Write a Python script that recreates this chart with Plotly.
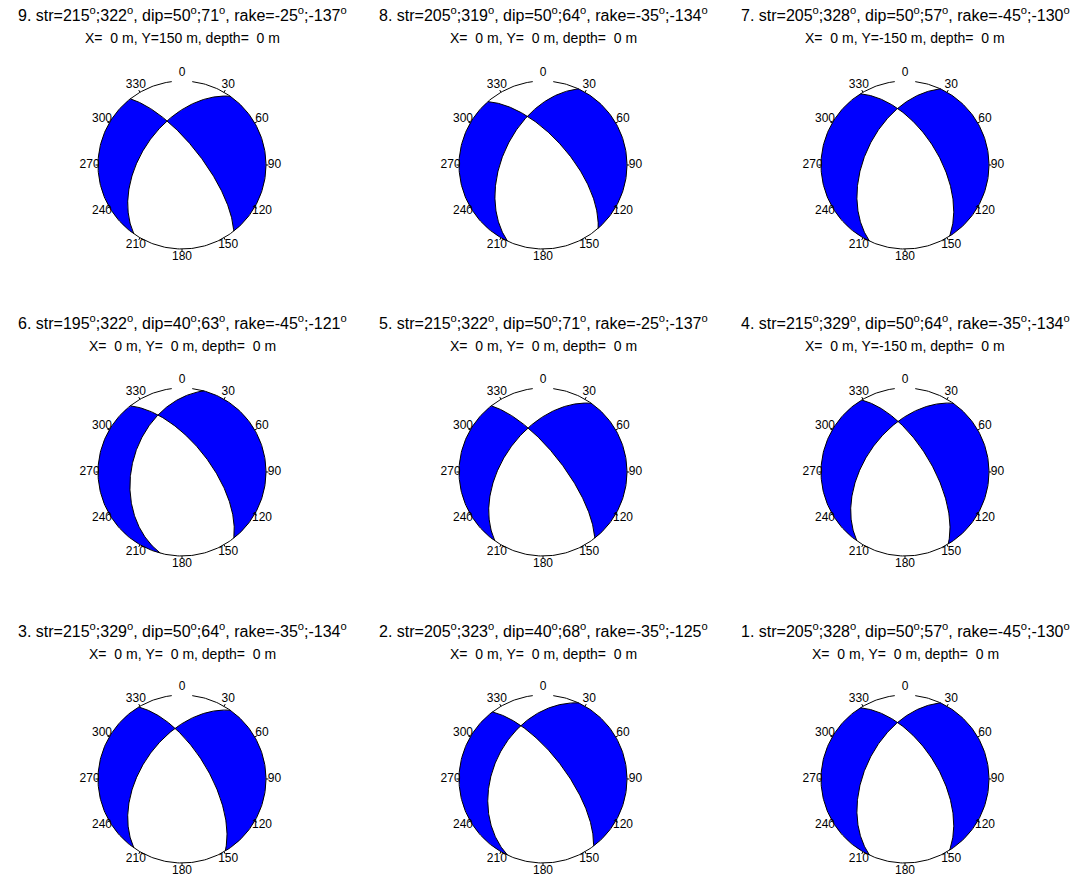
import numpy as np
import plotly.graph_objects as go

# ---------------- data ----------------
panel_ids = [9, 8, 7, 6, 5, 4, 3, 2, 1]
strike1 = [215, 205, 205, 195, 215, 215, 215, 205, 205]
strike2 = [322, 319, 328, 322, 322, 329, 329, 323, 328]
dip1 = [50, 50, 50, 40, 50, 50, 50, 40, 50]
dip2 = [71, 64, 57, 63, 71, 64, 64, 68, 57]
rake1 = [-25, -35, -45, -45, -25, -35, -35, -35, -45]
rake2 = [-137, -134, -130, -121, -137, -134, -134, -125, -130]
pos_x = [0, 0, 0, 0, 0, 0, 0, 0, 0]
pos_y = [150, 0, -150, 0, 0, -150, 0, 0, 0]
pos_depth = [0, 0, 0, 0, 0, 0, 0, 0, 0]
azimuth_ticks = [0, 30, 60, 90, 120, 150, 180, 210, 240, 270, 300, 330]

# ---------------- layout constants ----------------
PAGE_OFF = 8            # default body margin of the html page
W, H = 1081 - PAGE_OFF, 880 - PAGE_OFF
R_PX = 84.0
COL_CX = [182 - PAGE_OFF, 543 - PAGE_OFF, 905 - PAGE_OFF]
ROW_CY = [165 - PAGE_OFF, 472 - PAGE_OFF, 779 - PAGE_OFF]
TITLE_Y = [[14 - PAGE_OFF, 38 - PAGE_OFF],
           [322 - PAGE_OFF, 346 - PAGE_OFF],
           [630 - PAGE_OFF, 654 - PAGE_OFF]]
U = 1.12  # axis half-range in units of the ball radius
BLUE = "#0000FF"
FONT = "Liberation Sans, Arial, Helvetica, sans-serif"


def plane_vectors(strike, dip):
    f, d = np.radians(strike), np.radians(dip)
    s_hat = np.array([np.cos(f), np.sin(f), 0.0])
    d_hat = np.array([-np.cos(d) * np.sin(f), np.cos(d) * np.cos(f), np.sin(d)])
    normal = np.array([-np.sin(d) * np.sin(f), np.sin(d) * np.cos(f), -np.cos(d)])
    return s_hat, d_hat, normal


def slip_vector(strike, dip, rake):
    f, d, l = np.radians(strike), np.radians(dip), np.radians(rake)
    return np.array([
        np.cos(l) * np.cos(f) + np.sin(l) * np.cos(d) * np.sin(f),
        np.cos(l) * np.sin(f) - np.sin(l) * np.cos(d) * np.cos(f),
        -np.sin(l) * np.sin(d),
    ])


def project(v):
    v = np.atleast_2d(v)
    v = np.where(v[:, 2:3] < 0, -v, v)
    theta = np.arccos(np.clip(v[:, 2], -1, 1))
    r = np.sqrt(2) * np.sin(theta / 2)
    az = np.arctan2(v[:, 1], v[:, 0])
    return r * np.sin(az), r * np.cos(az)


def curve(strike, dip, t0, t1, n=120):
    s_hat, d_hat, _ = plane_vectors(strike, dip)
    t = np.linspace(t0, t1, n)
    v = np.outer(np.cos(t), s_hat) + np.outer(np.sin(t), d_hat)
    return project(v)


fig = go.Figure()
layout_axes = {}

for k, pid in enumerate(panel_ids):
    row, col = divmod(k, 3)
    cx, cy = COL_CX[col], ROW_CY[row]
    idx = "" if k == 0 else str(k + 1)
    xa, ya = "x" + idx, "y" + idx
    layout_axes["xaxis" + idx] = dict(
        domain=[(cx - U * R_PX) / W, (cx + U * R_PX) / W], range=[-U, U],
        visible=False, fixedrange=True)
    layout_axes["yaxis" + idx] = dict(
        domain=[1 - (cy + U * R_PX) / H, 1 - (cy - U * R_PX) / H], range=[-U, U],
        visible=False, fixedrange=True)

    planes = [(strike1[k], dip1[k]), (strike2[k], dip2[k])]
    s1h, d1h, n1 = plane_vectors(*planes[0])
    s2h, d2h, n2 = plane_vectors(*planes[1])
    B = np.cross(n1, n2)
    B /= np.linalg.norm(B)
    if B[2] < 0:
        B = -B
    tB = [np.arctan2(B @ d1h, B @ s1h), np.arctan2(B @ d2h, B @ s2h)]
    slip = slip_vector(strike1[k], dip1[k], rake1[k])

    ends = []
    for i, (st, dp) in enumerate(planes):
        ends.append(((st) % 360, i, 0.0))
        ends.append(((st + 180) % 360, i, np.pi))
    ends.sort(key=lambda e: e[0])

    for j in range(4):
        azP, iP, tP = ends[j]
        azQ, iQ, tQ = ends[(j + 1) % 4]
        if azQ <= azP:
            azQ += 360
        azm = np.radians((azP + azQ) / 2)
        pl = np.radians(3)
        vt = np.array([np.cos(pl) * np.cos(azm), np.cos(pl) * np.sin(azm), np.sin(pl)])
        amp = (n1 @ vt) * (slip @ vt)
        if amp <= 0:
            continue
        x1, y1 = curve(*planes[iP], tB[iP], tP)
        arc = np.radians(np.linspace(azP, azQ, 120))
        x2, y2 = np.sin(arc), np.cos(arc)
        x3, y3 = curve(*planes[iQ], tQ, tB[iQ])
        xs = np.concatenate([x1, x2, x3])
        ys = np.concatenate([y1, y2, y3])
        fig.add_trace(go.Scatter(x=xs, y=ys, mode="lines", fill="toself",
                                 fillcolor=BLUE, line=dict(width=0, color=BLUE),
                                 hoverinfo="skip", showlegend=False,
                                 xaxis=xa, yaxis=ya))

    # nodal planes
    for st, dp in planes:
        xs, ys = curve(st, dp, 0, np.pi, 240)
        fig.add_trace(go.Scatter(x=xs, y=ys, mode="lines",
                                 line=dict(color="black", width=1),
                                 hoverinfo="skip", showlegend=False,
                                 xaxis=xa, yaxis=ya))

    # outline circle (small gap at the top, like the reference)
    a = np.radians(np.linspace(7, 353, 300))
    fig.add_trace(go.Scatter(x=np.sin(a), y=np.cos(a), mode="lines",
                             line=dict(color="black", width=1),
                             hoverinfo="skip", showlegend=False,
                             xaxis=xa, yaxis=ya))
    # small outward ticks
    tx, ty = [], []
    for az in azimuth_ticks[1:]:
        ar = np.radians(az)
        tx += [np.sin(ar), 1.03 * np.sin(ar), None]
        ty += [np.cos(ar), 1.03 * np.cos(ar), None]
    fig.add_trace(go.Scatter(x=tx, y=ty, mode="lines",
                             line=dict(color="black", width=1),
                             hoverinfo="skip", showlegend=False,
                             xaxis=xa, yaxis=ya))

    # azimuth labels
    ar = np.radians(azimuth_ticks)
    fig.add_trace(go.Scatter(x=1.1 * np.sin(ar), y=1.1 * np.cos(ar), mode="text",
                             text=[str(a_) for a_ in azimuth_ticks],
                             textposition="middle center",
                             textfont=dict(family=FONT, size=12, color="black"),
                             cliponaxis=False, hoverinfo="skip", showlegend=False,
                             xaxis=xa, yaxis=ya))

    # titles
    deg = "<sup>o</sup>"
    line1 = (f"{pid}. str={strike1[k]}{deg};{strike2[k]}{deg}, "
             f"dip={dip1[k]}{deg};{dip2[k]}{deg}, "
             f"rake={rake1[k]}{deg};{rake2[k]}{deg}")
    line2 = (f"X={pos_x[k]:3d} m, Y={pos_y[k]:3d} m, depth={pos_depth[k]:3d} m"
             ).replace(" ", "\u00a0")
    for txt, ty_px, fs in zip([line1, line2], TITLE_Y[row], [16, 14]):
        fig.add_annotation(x=cx / W, y=1 - ty_px / H, xref="paper", yref="paper",
                           text=txt, showarrow=False, xanchor="center",
                           yanchor="middle",
                           font=dict(family=FONT, size=fs, color="black"))

fig.update_layout(
    width=W, height=H, margin=dict(l=0, r=0, t=0, b=0),
    paper_bgcolor="white", plot_bgcolor="white", showlegend=False,
    **layout_axes)

fig.write_html("out.html")
